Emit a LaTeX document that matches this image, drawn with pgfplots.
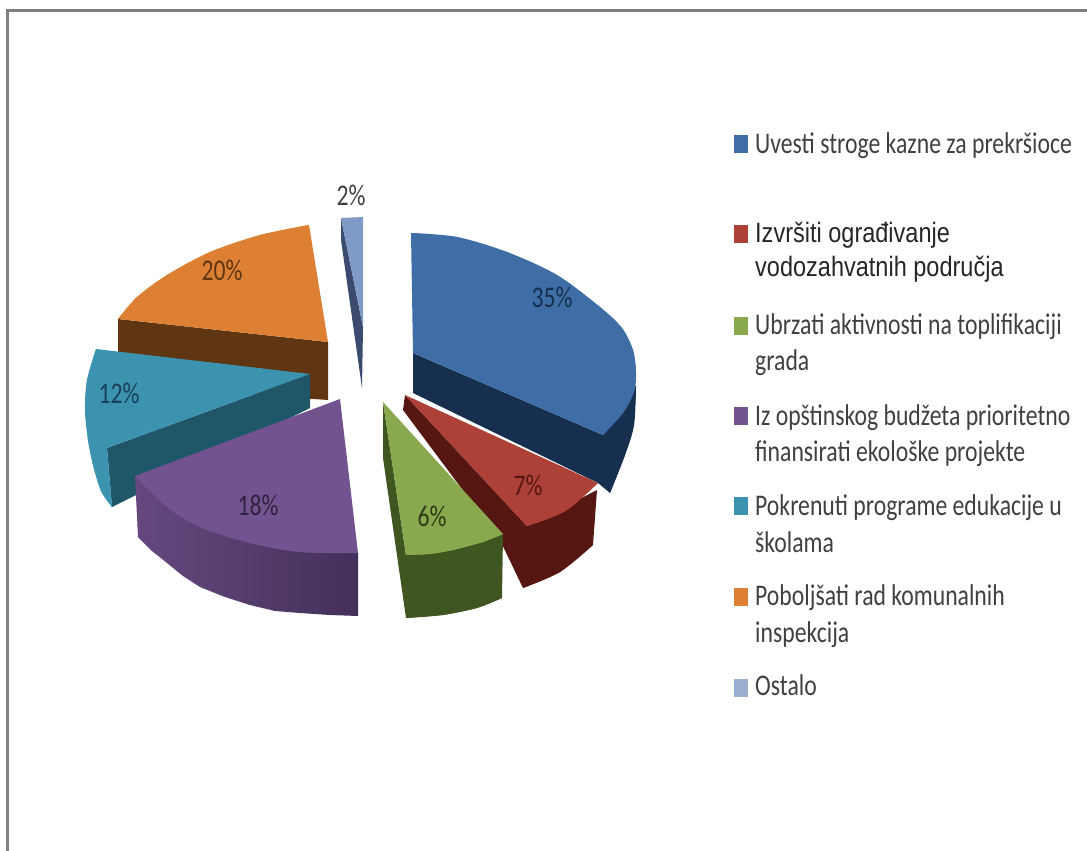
\documentclass[border=0pt]{standalone}
\usepackage{fontspec}
\usepackage{pgfplots}
\pgfplotsset{compat=1.18}
\setmainfont[FakeStretch=0.79]{Carlito}
\newfontfamily\boldish[FakeStretch=0.84]{Liberation Sans}
\definecolor{blueT}{HTML}{3F6EA6}
\definecolor{blueS}{HTML}{172F4E}
\definecolor{redT}{HTML}{AD4138}
\definecolor{redS}{HTML}{561712}
\definecolor{greenT}{HTML}{8AA84E}
\definecolor{greenS}{HTML}{3F5620}
\definecolor{purpT}{HTML}{72538F}
\definecolor{purpL}{HTML}{66487F}
\definecolor{purpR}{HTML}{43305A}
\definecolor{tealT}{HTML}{3B93AF}
\definecolor{tealS}{HTML}{1F5769}
\definecolor{orT}{HTML}{DD8034}
\definecolor{orS}{HTML}{5F3512}
\definecolor{skyT}{HTML}{7F9AC6}
\definecolor{skyS}{HTML}{3C4A70}
\definecolor{framecol}{HTML}{808080}
\definecolor{txt}{HTML}{404040}
\tikzset{
  leg/.style={anchor=base west, inner sep=0pt, text=txt, font=\fontsize{30}{36}\selectfont},
  legb/.style={anchor=base west, inner sep=0pt, text=black!85, font=\fontsize{28}{34}\boldish},
  pct/.style={anchor=center, inner sep=0pt, font=\fontsize{30}{36}\selectfont},
}
\pgfplotsset{
  sq/.style={only marks, mark=square*, mark size=8.5pt, mark options={draw=#1, line width=0pt, fill=#1, xscale=0.76}},
  arc/.style={draw=none, fill=#1, smooth, tension=0.55},
}

\begin{document}
\begin{tikzpicture}
\begin{axis}[
  scale only axis, width=1087pt, height=851pt,
  xmin=0, xmax=1087, ymin=0, ymax=851, y dir=reverse,
  axis lines=none,
]
\path[use as bounding box] (axis cs:0,0) rectangle (axis cs:1087,851);
% frame
\addplot[framecol, line width=3pt] coordinates {(7,851) (7,10.5) (1087,10.5)};

% orange 20%
\addplot[draw=none, fill=orS] coordinates {(118,319) (328,342) (328,400) (118,385)} -- cycle;
\addplot[draw=none, fill=orT] coordinates {(309,225) (260,235) (210,252) (167,275) (137,297) (118,319) (328,342)} -- cycle;
\addplot[arc=orT] coordinates {(309,225) (260,235) (210,252) (167,275) (137,297) (118,319)};

% teal 12%
\addplot[draw=none, fill=tealS] coordinates {(107,448) (310,374) (310,408) (112,507)} -- cycle;
\addplot[draw=none, fill=tealT] coordinates {(96,349) (310,374) (107,448) (112,507) (101,491) (93,465) (88,440) (85,410) (87,380)} -- cycle;
\addplot[arc=tealT] coordinates {(96,349) (87,380) (85,410) (88,440) (93,465) (101,491) (112,507)};

% purple 18%
\addplot[draw=none, left color=purpL, right color=purpR] coordinates {(135,476) (358,553) (358,616) (330,615) (300,613) (275,611) (250,605) (225,597) (200,587) (183,576) (167,563) (152,551) (138,537)} -- cycle;
\addplot[draw=none, fill=purpT] coordinates {(340,399) (135,476) (167,507) (200,527) (250,543) (300,552) (358,553)} -- cycle;
\addplot[arc=purpT] coordinates {(135,476) (167,507) (200,527) (250,543) (300,552) (358,553)};

% blue 35%
\addplot[draw=none, fill=blueS] coordinates {(413,353) (603,435) (636,385) (634,425) (625,455) (610,493) (598,483) (413,393)} -- cycle;
\addplot[arc=blueS] coordinates {(636,385) (634,425) (625,455) (610,493)};
\addplot[draw=none, fill=blueT] coordinates {(411,233) (457,237) (507,252) (557,275) (600,307) (622,328) (633,350) (636,372) (634,392) (623,413) (603,435) (413,353)} -- cycle;
\addplot[arc=blueT] coordinates {(411,233) (457,237) (507,252) (557,275) (600,307) (622,328) (633,350) (636,372) (634,392) (623,413) (603,435)};

% red 7%
\addplot[draw=none, fill=redS] coordinates {(405,395) (403,410) (500,540) (523,588) (560,572) (593,545) (597,490) (527,526)} -- cycle;
\addplot[arc=redS] coordinates {(523,588) (560,572) (593,545)};
\addplot[draw=none, fill=redT] coordinates {(405,395) (598,483) (570,508) (550,518) (527,526)} -- cycle;
\addplot[arc=redT] coordinates {(598,483) (570,508) (550,518) (527,526)};

% green 6%
\addplot[draw=none, fill=greenS] coordinates {(383,402) (383,458) (406,618) (443,615) (477,608) (502,598) (503,534) (406,555)} -- cycle;
\addplot[arc=greenS] coordinates {(406,618) (443,615) (477,608) (502,598)};
\addplot[draw=none, fill=greenT] coordinates {(383,402) (503,534) (483,542) (453,550) (430,554) (406,555)} -- cycle;
\addplot[arc=greenT] coordinates {(503,534) (483,542) (453,550) (430,554) (406,555)};

% sky 2%
\addplot[draw=none, fill=skyS] coordinates {(341,218) (363,327) (362,388) (341,240)} -- cycle;
\addplot[draw=none, fill=skyT] coordinates {(341,218) (363,217) (363,327)} -- cycle;

% value labels
\node[pct, text=txt] at (axis cs:351,195) {2\%};
\node[pct, text=orS] at (axis cs:222,270) {20\%};
\node[pct, text=blueS!60!tealS] at (axis cs:119,393) {12\%};
\node[pct, text=blueS] at (axis cs:552,297) {35\%};
\node[pct, text=redS] at (axis cs:528,485) {7\%};
\node[pct, text=greenS!70!black] at (axis cs:432,516) {6\%};
\node[pct, text=purpR!70!black] at (axis cs:258,505) {18\%};

% legend keys
\addplot[sq=blueT] coordinates {(741,144)};
\addplot[sq=redT] coordinates {(741,234)};
\addplot[sq=greenT] coordinates {(741,326)};
\addplot[sq=purpT] coordinates {(741,416)};
\addplot[sq=tealT] coordinates {(741,506)};
\addplot[sq=orT] coordinates {(741,597)};
\addplot[sq=skyT!80!white] coordinates {(741,688)};

% legend text
\node[leg] at (axis cs:755,153) {Uvesti stroge kazne za prekršioce};
\node[legb] at (axis cs:755,242) {Izvršiti ograđivanje};
\node[legb] at (axis cs:755,276) {vodozahvatnih područja};
\node[leg] at (axis cs:755,334) {Ubrzati aktivnosti na toplifikaciji};
\node[leg] at (axis cs:755,370) {grada};
\node[leg] at (axis cs:755,425) {Iz opštinskog budžeta prioritetno};
\node[leg] at (axis cs:755,461) {finansirati ekološke projekte};
\node[leg] at (axis cs:755,515) {Pokrenuti programe edukacije u};
\node[leg] at (axis cs:755,552) {školama};
\node[leg] at (axis cs:755,605) {Poboljšati rad komunalnih};
\node[leg] at (axis cs:755,642) {inspekcija};
\node[leg] at (axis cs:755,695) {Ostalo};
\end{axis}
\end{tikzpicture}
\end{document}
